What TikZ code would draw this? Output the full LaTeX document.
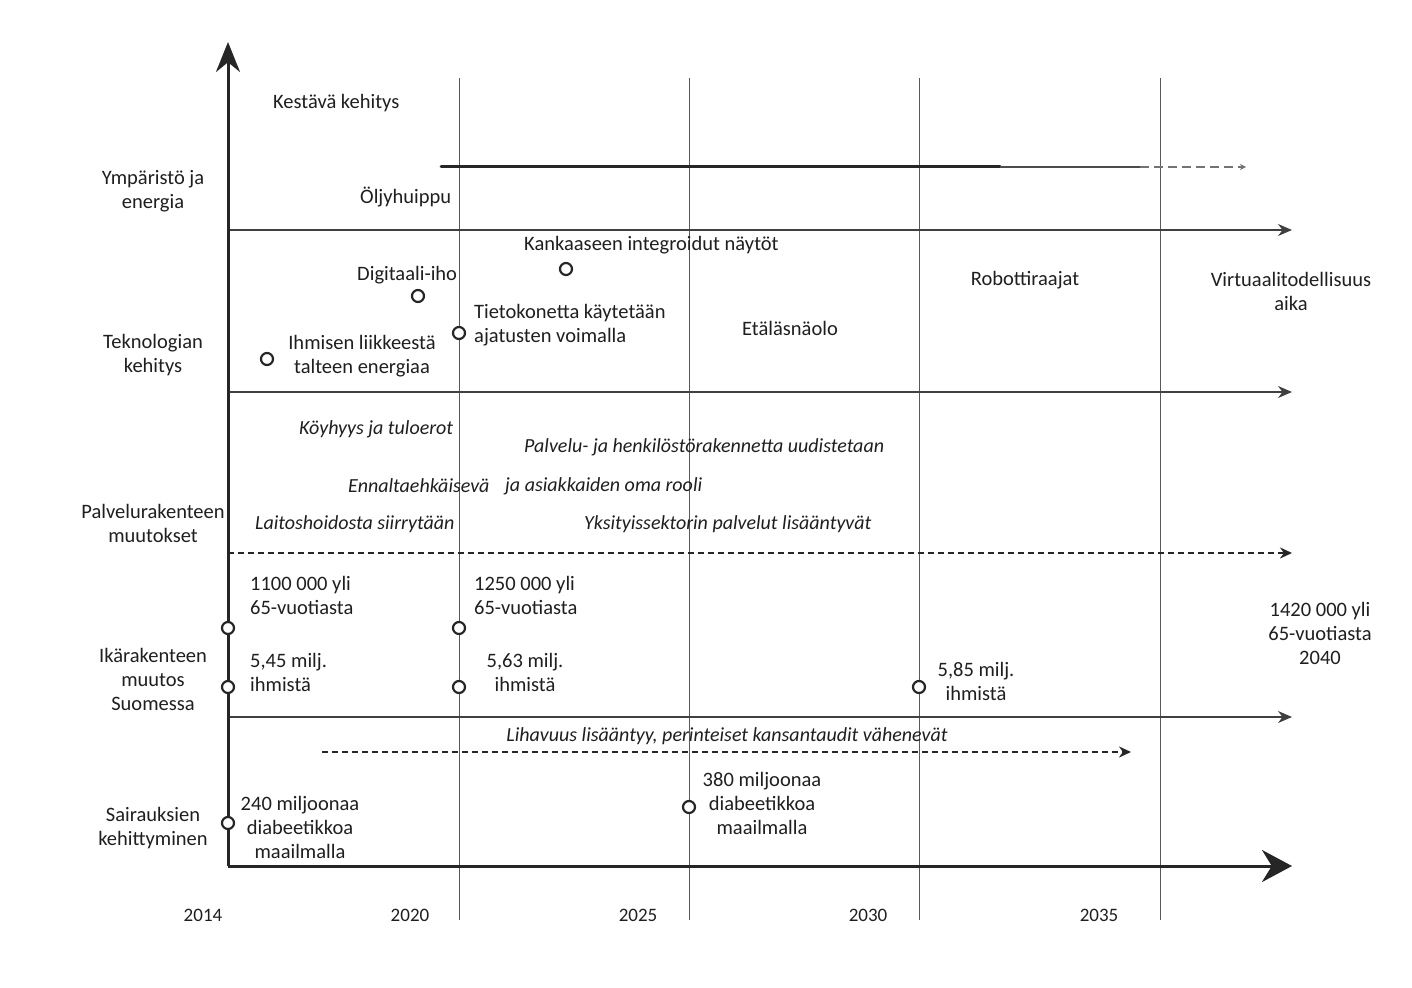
\documentclass[tikz,border=0pt]{standalone}
\usepackage{fontspec}
\setmainfont{Carlito}
\usetikzlibrary{arrows.meta}
\begin{document}
\begin{tikzpicture}[x=1pt,y=-1pt,
 lab/.style={font=\fontsize{20.5}{24}\selectfont, align=center, inner sep=0pt, text=black!88},
 itl/.style={lab, font=\fontsize{20}{24}\selectfont\itshape},
 yr/.style={lab, font=\fontsize{19}{22}\selectfont},
 gridline/.style={line width=0.9pt, black!65},
 rowarrow/.style={line width=1.6pt, black!75, -{Stealth[length=14pt,width=12pt]}},
 dasharrow/.style={line width=2pt, black!85, dash pattern=on 6pt off 4pt, -{Stealth[length=12pt,width=11pt]}},
 dot/.style={circle, draw=black!85, line width=2.2pt, fill=white, minimum size=12pt, inner sep=0pt}
]
\useasboundingbox (0,0) rectangle (1412,987);
\fill[white] (0,0) rectangle (1412,987);

% coordinates
\coordinate (O) at (228,866);
\coordinate (Ytop) at (228,42);
\coordinate (Xend) at (1292,866);
\foreach \x/\n in {459/a,689/b,919/c,1160/d}{
  \coordinate (g\n t) at (\x,78);
  \coordinate (g\n b) at (\x,920);
}
\coordinate (r1s) at (228,230); \coordinate (r1e) at (1292,230);
\coordinate (r2s) at (228,392); \coordinate (r2e) at (1292,392);
\coordinate (r3s) at (228,553); \coordinate (r3e) at (1292,553);
\coordinate (r4s) at (228,717); \coordinate (r4e) at (1292,717);
\coordinate (d1s) at (322,752); \coordinate (d1e) at (1131,752);
\coordinate (bs) at (441,167); \coordinate (bm) at (1000,167);
\coordinate (bm2) at (1140,167); \coordinate (be) at (1246,167);

% grid
\foreach \n in {a,b,c,d}{ \draw[gridline] (g\n t) -- (g\n b); }

% rows
\draw[rowarrow] (r1s) -- (r1e);
\draw[rowarrow] (r2s) -- (r2e);
\draw[dasharrow] (r3s) -- (r3e);
\draw[rowarrow] (r4s) -- (r4e);
\draw[dasharrow] (d1s) -- (d1e);

% brush stroke
\draw[line width=3pt, black!85, line cap=round] (bs) -- (bm);
\draw[line width=2.2pt, black!70] (bm) -- (bm2);
\draw[line width=1.2pt, black!55, dash pattern=on 9pt off 5pt, -{Stealth[length=6pt,width=6pt]}] (bm2) -- (be);

% axes
\draw[line width=3pt, black!85, -{Stealth[length=30pt,width=24pt]}] (O) -- (Ytop);
\draw[line width=3pt, black!85, -{Stealth[length=30pt,width=32pt]}] (O) -- (Xend);

% row labels
\node[lab] (ye) at (153,191) {Ympäristö ja\\energia};
\node[lab] (tk) at (153,355) {Teknologian\\kehitys};
\node[lab] (pm) at (153,523) {Palvelurakenteen\\muutokset};
\node[lab] (im) at (153,679) {Ikärakenteen\\muutos\\Suomessa};
\node[lab] (sk) at (153,828) {Sairauksien\\kehittyminen};

% years
\node[yr] (y14) at (203,915) {2014};
\node[yr] (y20) at (410,915) {2020};
\node[yr] (y25) at (638,915) {2025};
\node[yr] (y30) at (868,915) {2030};
\node[yr] (y35) at (1099,915) {2035};

% environment
\node[lab, anchor=west] (kk) at (273,103) {Kestävä kehitys};
\node[lab, anchor=west] (oh) at (360,197) {Öljyhuippu};

% technology
\node[lab, anchor=west] (kin) at (524,245) {Kankaaseen integroidut näytöt};
\node[dot] (c1) at (566,269) {};
\node[lab, anchor=west] (dih) at (357,275) {Digitaali-iho};
\node[dot] (c2) at (418,296) {};
\node[lab, anchor=west, align=left] (tko) at (474,325) {Tietokonetta käytetään\\ajatusten voimalla};
\node[dot] (c3) at (459,333) {};
\node[lab] (ihl) at (362,356) {Ihmisen liikkeestä\\talteen energiaa};
\node[dot] (c4) at (267,359) {};
\node[lab] (eta) at (790,328) {Etäläsnäolo};
\node[lab] (rob) at (1025,280) {Robottiraajat};
\node[lab] (vir) at (1291,291) {Virtuaalitodellisuus\\aika};

% service structure
\node[itl, anchor=west] (koy) at (299,429) {Köyhyys ja tuloerot};
\node[itl, anchor=west] (pal) at (524,447) {Palvelu- ja henkilöstörakennetta uudistetaan};
\node[itl, anchor=west] (enn) at (348,486) {Ennaltaehkäisevä};
\node[itl, anchor=west] (jaa) at (505,486) {ja asiakkaiden oma rooli};
\node[itl, anchor=west] (lai) at (255,524) {Laitoshoidosta siirrytään};
\node[itl, anchor=west] (yks) at (584,524) {Yksityissektorin palvelut lisääntyvät};

% age structure
\node[dot] (c5) at (228,628) {};
\node[lab, anchor=west, align=left] (t5) at (250,595) {1100 000 yli\\65-vuotiasta};
\node[dot] (c6) at (459,628) {};
\node[lab, anchor=west, align=left] (t6) at (474,595) {1250 000 yli\\65-vuotiasta};
\node[dot] (c7) at (228,687) {};
\node[lab, anchor=west, align=left] (t7) at (250,672) {5,45 milj.\\ihmistä};
\node[dot] (c8) at (459,687) {};
\node[lab] (t8) at (525,672) {5,63 milj.\\ihmistä};
\node[dot] (c9) at (919,687) {};
\node[lab] (t9) at (976,681) {5,85 milj.\\ihmistä};
\node[lab] (t10) at (1320,633) {1420 000 yli\\65-vuotiasta\\2040};

% diseases
\node[itl] (lih) at (727,736) {Lihavuus lisääntyy, perinteiset kansantaudit vähenevät};
\node[dot] (c10) at (228,823) {};
\node[lab] (t11) at (300,827) {240 miljoonaa\\diabeetikkoa\\maailmalla};
\node[dot] (c11) at (689,807) {};
\node[lab] (t12) at (762,803) {380 miljoonaa\\diabeetikkoa\\maailmalla};
\end{tikzpicture}
\end{document}
